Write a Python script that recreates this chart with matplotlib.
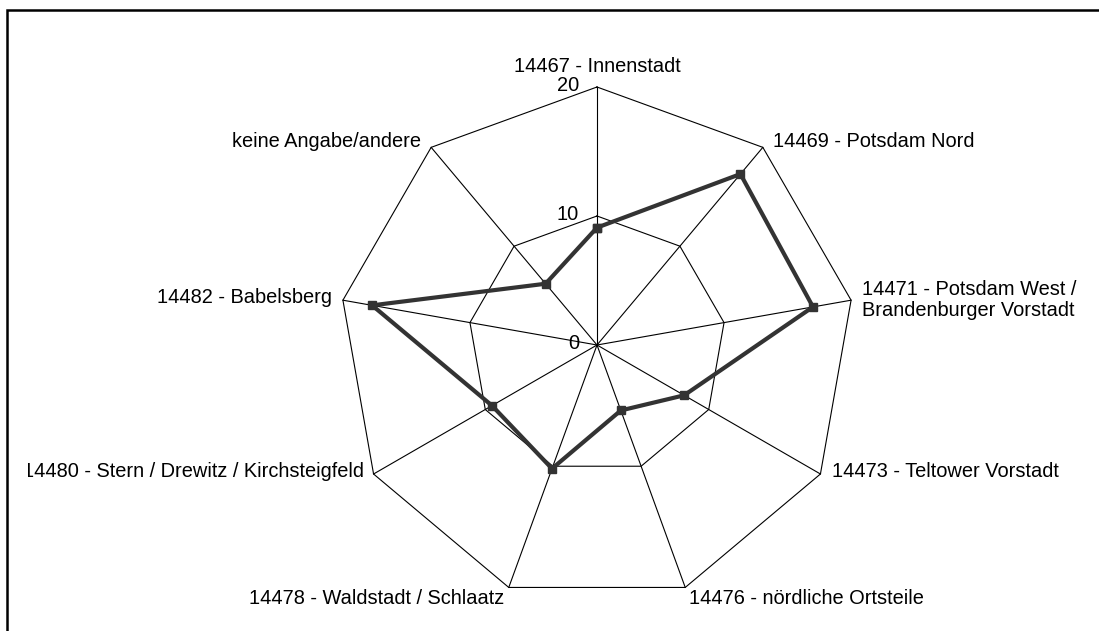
import numpy as np
import matplotlib
matplotlib.use("Agg")
import matplotlib.pyplot as plt
from matplotlib.patches import Rectangle
from matplotlib.transforms import Bbox, TransformedBbox

plt.rcParams['font.family'] = ['Liberation Sans', 'DejaVu Sans']

# Data (percent per postcode area), clockwise from top
categories = [
    "14467 - Innenstadt",
    "14469 - Potsdam Nord",
    "14471 - Potsdam West /\nBrandenburger Vorstadt",
    "14473 - Teltower Vorstadt",
    "14476 - nördliche Ortsteile",
    "14478 - Waldstadt / Schlaatz",
    "14480 - Stern / Drewitz / Kirchsteigfeld",
    "14482 - Babelsberg",
    "keine Angabe/andere",
]
values = [9.1, 17.3, 17.0, 7.8, 5.4, 10.2, 9.4, 17.7, 6.2]
rings = [10, 20]
tick_values = [0, 10, 20]

W, H = 1099, 631
fig = plt.figure(figsize=(W / 100, H / 100), dpi=100)
cx, cy, R = 597, 345, 258
ax = fig.add_axes([(cx - R) / W, (H - cy - R) / H, 2 * R / W, 2 * R / H],
                  projection='polar')
ax.set_theta_offset(np.pi / 2)
ax.set_theta_direction(-1)
ax.set_ylim(0, 20)
ax.grid(False)
ax.set_xticks([])
ax.set_yticks([])
ax.spines['polar'].set_visible(False)
ax.patch.set_visible(False)

n = len(categories)
theta = np.arange(n) * 2 * np.pi / n
theta_c = np.append(theta, theta[0])

# polygon grid and spokes
for r in rings:
    ax.plot(theta_c, [r] * (n + 1), color='black', lw=0.8, clip_on=False)
for t in theta:
    ax.plot([t, t], [0, 20], color='black', lw=0.8, clip_on=False)

# data series
vals_c = np.append(values, values[0])
ax.plot(theta_c, vals_c, color='#333333', lw=3, marker='s', markersize=5.5,
        solid_joinstyle='miter', clip_on=False, zorder=5)

# radial tick labels
for v in tick_values:
    ax.annotate(str(v), xy=(0, v), xytext=(-13, 1), textcoords='offset points',
                ha='right', va='center', fontsize=14.4)

# category labels
label_pos = [
    ((0, 8), 'center', 'bottom'),
    ((7, 4), 'left', 'center'),
    ((8, 0), 'left', 'center'),
    ((8, 2), 'left', 'center'),
    ((3, -1), 'left', 'top'),
    ((-3, -1), 'right', 'top'),
    ((-7, 2), 'right', 'center'),
    ((-8, 2), 'right', 'center'),
    ((-7, 4), 'right', 'center'),
]
for t, lab, (off, ha, va) in zip(theta, categories, label_pos):
    txt = ax.annotate(lab, xy=(t, 20), xytext=off, textcoords='offset points',
                      ha=ha, va=va, fontsize=14.4, linespacing=1.15,
                      annotation_clip=False)
    txt.set_clip_box(TransformedBbox(Bbox([[28 / W, 0], [1, 1]]), fig.transFigure))
    txt.set_clip_on(True)

# outer frame (only top and left edges visible)
fig.add_artist(Rectangle((7 / W, -0.5), 2, 1.5 - 10 / H, fill=False,
                         edgecolor='black', lw=1.8, transform=fig.transFigure))

fig.savefig("out.png", dpi=100)
